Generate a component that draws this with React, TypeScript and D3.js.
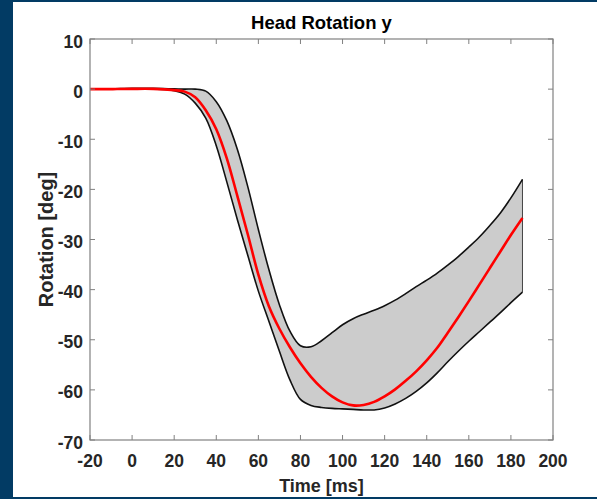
import React from "react";
import * as d3 from "d3";

const times = [-20, -10, 0, 10, 20, 25, 30, 35, 40, 45, 50, 55, 60, 65, 70, 75, 80, 85, 90, 95, 100, 105, 110, 115, 120, 125, 130, 135, 140, 145, 150, 155, 160, 165, 170, 175, 180, 185.5];
const upper = [0, 0.05, 0.15, 0.15, 0.05, 0, 0, -0.4, -2.5, -6.3, -12, -19.5, -28, -36, -43, -48.3, -51.2, -51.4, -50.2, -48.6, -47, -45.8, -44.9, -44.1, -43.2, -42.1, -40.8, -39.4, -38.1, -36.7, -35.1, -33.4, -31.5, -29.5, -27.2, -24.7, -21.7, -18];
const meanVals = [0, 0, 0.05, 0.05, -0.2, -0.5, -1.6, -4.2, -8, -13.8, -21.3, -29, -37, -43.3, -47.8, -51.5, -54.7, -57.4, -59.6, -61.3, -62.5, -63.1, -63, -62.4, -61.3, -59.9, -58.2, -56.3, -54.1, -51.6, -48.6, -45.5, -42.3, -39, -35.7, -32.4, -29.1, -25.7];
const lower = [0, 0, 0.05, 0, -0.3, -1.0, -2.8, -5.8, -11.3, -18.5, -26, -33.2, -40.3, -46.3, -52.3, -58, -61.9, -63.1, -63.5, -63.7, -63.8, -63.9, -64, -64, -63.6, -62.8, -61.7, -60.3, -58.6, -56.6, -54.4, -52.3, -50.3, -48.4, -46.5, -44.6, -42.6, -40.5];

const xTicks = [-20, 0, 20, 40, 60, 80, 100, 120, 140, 160, 180, 200];
const yTicks = [-70, -60, -50, -40, -30, -20, -10, 0, 10];

const W = 597;
const H = 499;
const L = 90, R = 553, T = 39, B = 440;
const FONT = "'Liberation Sans', Arial, Helvetica, sans-serif";

export default function App() {
  const x = d3.scaleLinear().domain([-20, 200]).range([L, R]);
  const y = d3.scaleLinear().domain([-70, 10]).range([B, T]);
  const idx = times.map((_, i) => i);
  const curve = d3.curveCatmullRom.alpha(0.5);

  const area = d3
    .area<number>()
    .x((i) => x(times[i]))
    .y0((i) => y(lower[i]))
    .y1((i) => y(upper[i]))
    .curve(curve);
  const lineOf = (arr: number[]) =>
    d3
      .line<number>()
      .x((i) => x(times[i]))
      .y((i) => y(arr[i]))
      .curve(curve)(idx) || "";

  const last = times.length - 1;
  const axisColor = "#808080";
  const textColor = "#262626";
  const tl = 5;

  return (
    <div style={{ position: "fixed", left: 0, top: 0 }}>
      <svg width={W} height={H} style={{ display: "block" }}>
        <rect x={0} y={0} width={W} height={H} fill="#ffffff" />
        <rect x={0} y={0} width={13} height={H} fill="#023b64" />
        <rect x={0} y={0} width={W} height={2} fill="#023b64" />
        <rect x={0} y={497} width={W} height={2} fill="#023b64" />

        <path d={area(idx) || ""} fill="#cccccc" stroke="none" />
        <line
          x1={x(times[last])}
          x2={x(times[last])}
          y1={y(upper[last])}
          y2={y(lower[last])}
          stroke="#444"
          strokeWidth={1}
        />
        <path d={lineOf(upper)} fill="none" stroke="#111" strokeWidth={1.6} />
        <path d={lineOf(lower)} fill="none" stroke="#111" strokeWidth={1.6} />
        <path d={lineOf(meanVals)} fill="none" stroke="#ff0000" strokeWidth={2.6} />

        <rect x={L} y={T} width={R - L} height={B - T} fill="none" stroke={axisColor} strokeWidth={1.2} />
        {xTicks.map((t) => (
          <g key={"x" + t}>
            <line x1={x(t)} x2={x(t)} y1={B} y2={B - tl} stroke={axisColor} strokeWidth={1} />
            <line x1={x(t)} x2={x(t)} y1={T} y2={T + tl} stroke={axisColor} strokeWidth={1} />
            <text
              x={x(t)}
              y={467}
              textAnchor="middle"
              fontFamily={FONT}
              fontWeight="bold"
              fontSize={17.5}
              fill={textColor}
            >
              {t}
            </text>
          </g>
        ))}
        {yTicks.map((t) => (
          <g key={"y" + t}>
            <line x1={L} x2={L + tl} y1={y(t)} y2={y(t)} stroke={axisColor} strokeWidth={1} />
            <line x1={R} x2={R - tl} y1={y(t)} y2={y(t)} stroke={axisColor} strokeWidth={1} />
            <text
              x={83}
              y={y(t) + 8.5}
              textAnchor="end"
              fontFamily={FONT}
              fontWeight="bold"
              fontSize={17.5}
              fill={textColor}
            >
              {t}
            </text>
          </g>
        ))}
        <text
          x={(L + R) / 2}
          y={29}
          textAnchor="middle"
          fontFamily={FONT}
          fontWeight="bold"
          fontSize={18.5}
          fill="#000"
        >
          Head Rotation y
        </text>
        <text
          x={(L + R) / 2}
          y={492}
          textAnchor="middle"
          fontFamily={FONT}
          fontWeight="bold"
          fontSize={18}
          fill={textColor}
        >
          Time [ms]
        </text>
        <text
          transform={`translate(53, ${(T + B) / 2}) rotate(-90)`}
          textAnchor="middle"
          fontFamily={FONT}
          fontWeight="bold"
          fontSize={20}
          fill={textColor}
        >
          Rotation [deg]
        </text>
      </svg>
    </div>
  );
}
